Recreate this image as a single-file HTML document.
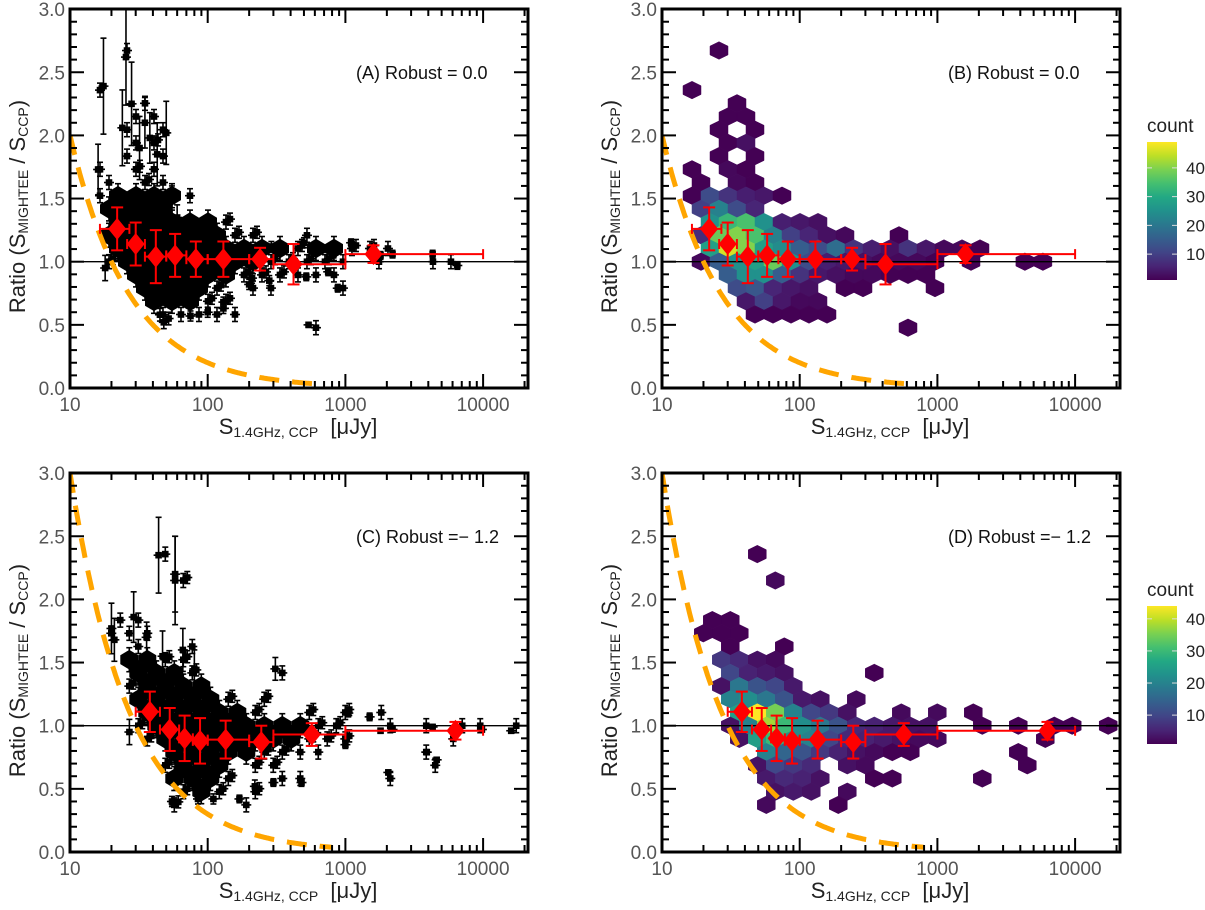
<!DOCTYPE html>
<html><head><meta charset="utf-8"><style>
html,body{margin:0;padding:0;background:#fff;}
svg{display:block;font-family:"Liberation Sans",Arial,sans-serif;}
</style></head><body>
<svg id="fig" width="1205" height="910" viewBox="0 0 1205 910" xmlns="http://www.w3.org/2000/svg"></svg>
<script>
// ---------- data ----------
const binX0 = [22,30,42,58,82,130,240,420,1600];
const binY0 = [1.26,1.14,1.04,1.05,1.02,1.02,1.02,0.98,1.06];
const binYErr0 = [0.17,0.17,0.21,0.17,0.14,0.14,0.09,0.16,0.07];
const binLo0 = [16.5,26,35,50,70,100,200,300,1000];
const binHi0 = [27,35,50,70,100,200,300,1000,10000];
const binX1 = [38,53,68,88,135,245,570,6300];
const binY1 = [1.11,0.97,0.90,0.88,0.89,0.87,0.93,0.96];
const binYErr1 = [0.16,0.17,0.18,0.18,0.15,0.13,0.09,0.07];
const binLo1 = [30,45,62,78,100,200,300,1000];
const binHi1 = [45,62,78,100,200,300,1000,10000];
const hexB = [[16,1,1],[13,-1,1],[12,2,1],[11,1,1],[11,2,1],[10,1,1],[10,3,1],[9,1,1],[9,2,3],[8,1,1],[8,3,1],
[7,-1,1],[7,1,2],[7,2,1],[6,0,1],[6,2,2],[6,3,1],
[5,-1,1],[5,0,12],[5,1,8],[5,2,5],[5,3,4],[5,4,1],
[4,0,10],[4,1,22],[4,2,12],[4,3,6],
[3,0,25],[3,1,33],[3,2,35],[3,3,25],[3,4,5],[3,5,4],[3,6,3],
[2,0,7],[2,1,38],[2,2,40],[2,3,35],[2,4,22],[2,5,10],[2,6,6],[2,7,3],[2,8,2],[2,11,1],
[1,0,28],[1,1,46],[1,2,40],[1,3,28],[1,4,24],[1,5,15],[1,6,12],[1,7,18],[1,8,8],[1,9,5],[1,10,3],[1,11,8],[1,12,4],[1,13,2],[1,14,2],[1,15,1],
[0,0,2],[0,1,15],[0,2,25],[0,3,28],[0,4,38],[0,5,25],[0,6,12],[0,7,5],[0,8,4],[0,9,3],[0,10,2],[0,11,2],[0,12,2],[0,13,1],[0,15,1],[0,18,1],[0,19,1],
[-1,1,15],[-1,2,25],[-1,3,25],[-1,4,15],[-1,5,8],[-1,6,4],[-1,7,3],[-1,8,2],[-1,9,2],[-1,10,1],[-1,11,1],[-1,12,1],
[-2,2,12],[-2,3,14],[-2,4,6],[-2,5,4],[-2,6,3],[-2,8,1],[-2,9,1],[-2,13,1],
[-3,2,4],[-3,3,10],[-3,4,4],[-3,5,2],[-3,6,2],
[-4,3,1],[-4,4,1],[-4,5,1],[-4,6,1],[-4,7,1],[-5,11,1]];
const hexD = [[13,1,1],[11,2,2],[8,-1,1],[8,0,1],[7,-2,1],[7,-1,1],[7,0,1],[6,0,1],[6,3,1],
[5,-1,8],[5,0,6],[5,1,3],[5,2,2],
[4,0,10],[4,1,5],[4,2,4],[4,3,3],[4,8,1],
[3,-1,3],[3,0,18],[3,1,12],[3,2,10],[3,3,4],
[2,0,20],[2,1,22],[2,2,18],[2,3,12],[2,4,4],[2,5,3],[2,7,2],
[1,0,25],[1,1,44],[1,2,35],[1,3,20],[1,4,10],[1,5,8],[1,6,3],[1,9,2],[1,11,2],[1,13,1],
[0,0,3],[0,1,20],[0,2,38],[0,3,30],[0,4,22],[0,5,18],[0,6,12],[0,7,6],[0,8,5],[0,9,4],[0,10,3],[0,11,3],[0,14,1],[0,16,1],[0,18,1],[0,19,1],[0,21,1],
[-1,0,3],[-1,1,25],[-1,2,30],[-1,3,22],[-1,4,20],[-1,5,10],[-1,6,6],[-1,7,5],[-1,8,4],[-1,9,3],[-1,10,2],[-1,11,2],[-1,17,1],
[-2,2,20],[-2,3,15],[-2,4,12],[-2,5,8],[-2,6,5],[-2,7,3],[-2,8,2],[-2,9,1],[-2,10,1],[-2,16,1],
[-3,1,3],[-3,2,10],[-3,3,8],[-3,4,6],[-3,6,3],[-3,7,2],[-3,16,1],
[-4,2,4],[-4,3,6],[-4,4,5],[-4,5,3],[-4,8,1],[-4,9,1],[-4,14,1],
[-5,2,3],[-5,3,4],[-5,4,3],[-5,6,2],[-6,2,2],[-6,6,1]];
const outA = [[17.5,2.39,0.38],[25.5,2.62,0.38],[24,2.06,0.3],[28,2.25,0.33],[16,1.73,0.2],[35,2.1,0.2],[38,1.98,0.2],[50,2.02,0.25],[32,1.9,0.25],[43,1.85,0.25],[55,1.48,0.12],[60,1.35,0.1],[70,1.25,0.08],
[540,0.5,0.02],[880,0.79,0.03],[1100,1.15,0.03],[2200,1.06,0.03],[4300,1.06,0.03],[6500,0.97,0.03],[1800,1.05,0.03],[820,1.06,0.03],[750,0.92,0.03],[520,0.88,0.03],[500,1.15,0.04],[290,1.12,0.04],[280,0.85,0.04],
[75,0.57,0.04],[100,0.6,0.04],[130,0.63,0.04],[130,0.68,0.04],[200,0.82,0.04],[210,0.87,0.04],[45,0.58,0.05],[48,0.52,0.05],[52,0.55,0.05],[18,0.95,0.1]];
const outC = [[44,2.35,0.3],[58,2.15,0.35],[58,2.2,0.3],[20,1.77,0.2],[21,1.68,0.17],[29,1.86,0.2],[36,1.7,0.12],[47,1.55,0.2],[66,1.6,0.17],[80,1.45,0.15],[310,1.45,0.09],
[55,0.4,0.04],[85,0.42,0.04],[110,0.42,0.04],[170,0.42,0.03],[220,0.52,0.05],[480,0.55,0.03],[300,0.55,0.03],[1000,0.85,0.03],[1050,1.1,0.03],[1500,1.07,0.03],
[2050,0.63,0.02],[2200,0.97,0.02],[3900,0.79,0.02],[4600,0.73,0.02],[4300,0.99,0.02],[9800,0.97,0.02],[16000,0.96,0.02],[1800,0.96,0.02],[27,0.95,0.1]];
const yTicks = [0.0,0.5,1.0,1.5,2.0,2.5,3.0];
const xTicks = [10,100,1000,10000];
const cbTicks = [10,20,30,40];

const NS = "http://www.w3.org/2000/svg";
const svg = document.getElementById("fig");
function el(tag, attrs, parent){ const e=document.createElementNS(NS,tag); for(const k in attrs) e.setAttribute(k,attrs[k]); (parent||svg).appendChild(e); return e; }
const VS=[[0,'#440154'],[0.1,'#482475'],[0.2,'#414487'],[0.3,'#355f8d'],[0.4,'#2a788e'],[0.5,'#21918c'],[0.6,'#22a884'],[0.7,'#44bf70'],[0.8,'#7ad151'],[0.9,'#bddf26'],[1,'#fde725']];
function hx(c){return [1,3,5].map(i=>parseInt(c.substr(i,2),16));}
function viridis(t){t=Math.max(0,Math.min(1,t));for(let i=1;i<VS.length;i++){if(t<=VS[i][0]){const a=VS[i-1],b=VS[i];const f=(t-a[0])/(b[0]-a[0]);const ca=hx(a[1]),cb=hx(b[1]);return 'rgb('+ca.map((v,j)=>Math.round(v+(cb[j]-v)*f)).join(',')+')';}}return VS[VS.length-1][1];}

function makePanel(P){
  const g = el('g',{});
  
  
  const L=P.x0, R=P.x0+458, T=P.yb-379, B=P.yb;
  const xs = s => L + (Math.log10(s)-1)*137.7;
  const xl = l => L + (l-1)*137.7;
  const ys = r => B - r*126.3;
  const clip = 'clip'+P.id;
  const cp = el('clipPath',{id:clip},g); el('rect',{x:L,y:T,width:R-L,height:B-T},cp);
  const plot = el('g',{'clip-path':'url(#'+clip+')'},g);
  const hx0 = P.hexX0, dl=0.1307, dr=0.1045, w=18, h=8.8;
  function drawPt(par,cx,cy,ey,ex){
    const gg = el('g',{stroke:'#000','stroke-width':1.6},par);
    
    
    el('line',{x1:cx,y1:cy-ey,x2:cx,y2:cy+ey},gg);
    el('line',{x1:cx-3,y1:cy-ey,x2:cx+3,y2:cy-ey},gg);
    el('line',{x1:cx-3,y1:cy+ey,x2:cx+3,y2:cy+ey},gg);
    el('line',{x1:cx-ex-2,y1:cy,x2:cx+ex+2,y2:cy},gg);
    el('rect',{x:cx-2.5,y:cy-2.5,width:5,height:5,fill:'#000'},gg);
  }
  P.cells.forEach(c=>{
    const k=c[0], i=c[1], n=c[2];
    const lx = hx0 + i*dl + (k%2!==0 ? dl/2 : 0);
    const cx = xl(lx), cy = ys(1 + k*dr);
    if(P.hex){
      const col = viridis((n-1)/(P.vmax-1));
      const p = el('polygon',{points:[[0,-h],[w/2,-h/2],[w/2,h/2],[0,h],[-w/2,h/2],[-w/2,-h/2]].map(v=>(cx+v[0]).toFixed(1)+','+(cy+v[1]).toFixed(1)).join(' '),fill:col,stroke:col,'stroke-width':0.5},plot);
      
      
    } else {
      if(n>=4){
        const p = el('polygon',{points:[[0,-h-1],[w/2,-h/2],[w/2,h/2],[0,h+1],[-w/2,h/2],[-w/2,-h/2]].map(v=>(cx+v[0]).toFixed(1)+','+(cy+v[1]).toFixed(1)).join(' '),fill:'#000'},plot);
        
        
        drawPt(plot, cx, cy, 12, 4);
      } else {
        drawPt(plot, cx, cy, 7, 3);
        if(n>=2) drawPt(plot, cx+4, cy-3, 6, 3);
      }
    }
  });
  if(!P.hex){
    P.out.forEach(o=>{ drawPt(plot, xs(o[0]), ys(o[1]), o[2]*126.3, 3); });
  }
  const ul = el('line',{x1:L,y1:ys(1),x2:R,y2:ys(1),stroke:'#000','stroke-width':1.3},plot);
   
  let d='';
  for(let l=1;l<=Math.log10(P.curveEnd);l+=0.01){const s=Math.pow(10,l);d+=(d?'L':'M')+xs(s).toFixed(1)+','+ys(P.curveA/s).toFixed(1);}
  const cv = el('path',{d:d,fill:'none',stroke:'#ffa500','stroke-width':5,'stroke-dasharray':'20 13'},plot);
   
  P.bx.forEach((x,j)=>{
    const gg = el('g',{stroke:'#ff0000','stroke-width':2,fill:'#ff0000'},plot);
    
    
    const cx=xs(x), cy=ys(P.by[j]), e=P.be[j]*126.3, a=xs(P.blo[j]), b=xs(P.bhi[j]);
    el('line',{x1:a,y1:cy,x2:b,y2:cy},gg);
    el('line',{x1:a,y1:cy-5,x2:a,y2:cy+5},gg);
    el('line',{x1:b,y1:cy-5,x2:b,y2:cy+5},gg);
    el('line',{x1:cx,y1:cy-e,x2:cx,y2:cy+e},gg);
    el('line',{x1:cx-6,y1:cy-e,x2:cx+6,y2:cy-e},gg);
    el('line',{x1:cx-6,y1:cy+e,x2:cx+6,y2:cy+e},gg);
    el('polygon',{points:`${cx},${cy-11} ${cx+9},${cy} ${cx},${cy+11} ${cx-9},${cy}`,stroke:'none'},gg);
  });
  const tk = el('g',{stroke:'#000','stroke-width':2},g);
   
  for(let dec=10;dec<=10000;dec*=10){for(let m=1;m<=9;m++){const s=dec*m; const x=xs(s); if(x>R-1) continue; const len=(m===1)?14:7;
    el('line',{x1:x,y1:B,x2:x,y2:B-len},tk); el('line',{x1:x,y1:T,x2:x,y2:T+len},tk);}}
  for(let q=0;q<=30;q++){const y=ys(q/10); const len=(q%5===0)?14:7;
    el('line',{x1:L,y1:y,x2:L+len,y2:y},tk); el('line',{x1:R,y1:y,x2:R-len,y2:y},tk);}
  const fr = el('rect',{x:L,y:T,width:R-L,height:B-T,fill:'none',stroke:'#000','stroke-width':3},g);
   
  yTicks.forEach(v=>{ const t=el('text',{x:L-5,y:ys(v)+7,'text-anchor':'end','font-size':19,fill:'#555'},g); t.textContent=v.toFixed(1);
      });
  xTicks.forEach(v=>{ const t=el('text',{x:xs(v),y:B+23,'text-anchor':'middle','font-size':19,fill:'#555'},g); t.textContent=String(v);
      });
  const xt = el('text',{x:L+228,y:B+46,'text-anchor':'middle','font-size':22,fill:'#222'},g);
   
  xt.innerHTML='S<tspan font-size="14" dy="3">1.4GHz, CCP</tspan><tspan dy="-3" font-size="22" xml:space="preserve">  [μJy]</tspan>';
  const yc = (T+B)/2 + 8;
  const yt = el('text',{x:0,y:0,'text-anchor':'middle','font-size':22,fill:'#222',transform:`translate(${L-45},${yc}) rotate(-90)`},g);
   
  yt.innerHTML='Ratio (S<tspan font-size="14" dy="3">MIGHTEE</tspan><tspan dy="-3"> / S</tspan><tspan font-size="14" dy="3">CCP</tspan><tspan dy="-3">)</tspan>';
  const an = el('text',{x:L+286,y:T+70,'font-size':18,fill:'#111'},g);
   
  an.textContent = P.label;
  if(P.hex){
    const cb = el('g',{},g);
     
    const gid='grad'+P.id;
    const lg = el('linearGradient',{id:gid,x1:0,y1:1,x2:0,y2:0},cb);
    VS.forEach(s=>el('stop',{offset:s[0],'stop-color':s[1]},lg));
    const cT=P.cbTop, cB=P.cbBot;
    el('rect',{x:1147,y:cT,width:30,height:cB-cT,fill:'url(#'+gid+')'},cb);
    const cy = v => cB - (v-1)/(P.vmax-1)*(cB-cT);
    cbTicks.forEach(v=>{
      el('line',{x1:1147,y1:cy(v),x2:1152,y2:cy(v),stroke:'#ddd','stroke-width':1},cb);
      el('line',{x1:1172,y1:cy(v),x2:1177,y2:cy(v),stroke:'#ddd','stroke-width':1},cb);
      const t=el('text',{x:1186,y:cy(v)+6,'font-size':17,fill:'#222'},cb); t.textContent=String(v);
    });
    const ct=el('text',{x:1147,y:cT-10,'font-size':19,fill:'#222'},cb); ct.textContent='count';
  }
}

makePanel({id:'A',name:'panel-a',x0:70,yb:388,hex:false,cells:hexB,out:outA,hexX0:1.2832,vmax:49,curveA:20,curveEnd:650,bx:binX0,by:binY0,be:binYErr0,blo:binLo0,bhi:binHi0,label:'(A) Robust = 0.0'});
makePanel({id:'B',name:'panel-b',x0:662,yb:388,hex:true,cells:hexB,hexX0:1.2832,vmax:49,curveA:20,curveEnd:650,bx:binX0,by:binY0,be:binYErr0,blo:binLo0,bhi:binHi0,label:'(B) Robust = 0.0',cbTop:142,cbBot:280});
makePanel({id:'C',name:'panel-c',x0:70,yb:852,hex:false,cells:hexD,out:outC,hexX0:1.496,vmax:44,curveA:30,curveEnd:800,bx:binX1,by:binY1,be:binYErr1,blo:binLo1,bhi:binHi1,label:'(C) Robust =− 1.2'});
makePanel({id:'D',name:'panel-d',x0:662,yb:852,hex:true,cells:hexD,hexX0:1.496,vmax:44,curveA:30,curveEnd:800,bx:binX1,by:binY1,be:binYErr1,blo:binLo1,bhi:binHi1,label:'(D) Robust =− 1.2',cbTop:606,cbBot:744});
</script>
</body></html>
